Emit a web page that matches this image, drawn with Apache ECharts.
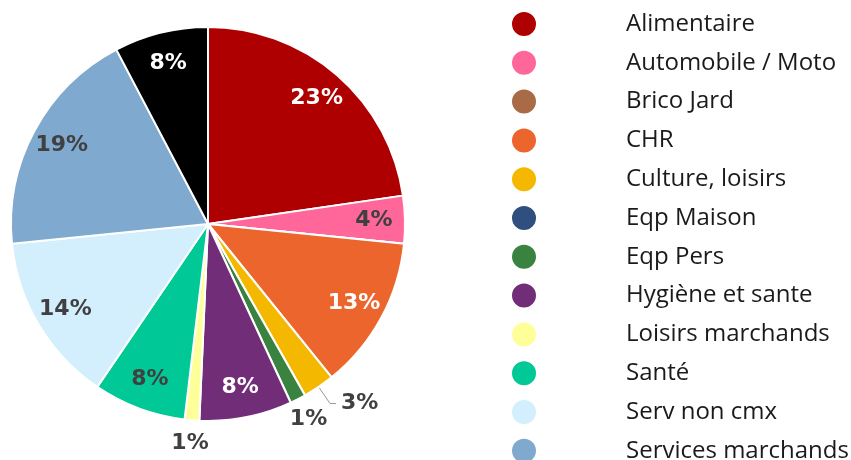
<!DOCTYPE html>
<html>
<head>
<meta charset="utf-8">
<script src="https://cdn.jsdelivr.net/npm/echarts@6/dist/echarts.min.js"></script>
<style>
  html, body { margin: 0; padding: 0; background: #fff; }
  #chart { width: 851px; height: 460px; }
</style>
</head>
<body>
<div id="chart"></div>
<script>
// secteurs (le dernier n'apparaît pas dans la légende visible)
const categories = [
  'Alimentaire', 'Automobile / Moto', 'Brico Jard', 'CHR', 'Culture, loisirs',
  'Eqp Maison', 'Eqp Pers', 'Hygiène et sante', 'Loisirs marchands', 'Santé',
  'Serv non cmx', 'Services marchands', 'Autres'
];
const shares = [22.7, 3.9, 0, 12.6, 2.6, 0, 1.3, 7.6, 1.2, 7.6, 13.9, 18.9, 7.7];
const colors = [
  '#AE0000', '#FF6699', '#A96A46', '#EB652D', '#F5B800',
  '#2F4F7F', '#3A8240', '#722D78', '#FFFF99', '#00C896',
  '#D3EEFC', '#7FA9CE', '#000000'
];
// couleur du texte à l'intérieur de chaque part
const labelColors = [
  '#fff', '#404040', '#fff', '#fff', '#404040',
  '#fff', '#fff', '#fff', '#404040', '#404040',
  '#404040', '#404040', '#fff'
];

const SMALL = 3;   // en dessous : étiquette à l'extérieur
const TINY = 2;    // très petites parts : étiquette juste sous la part, sans trait

const chart = echarts.init(document.getElementById('chart'));

const pct = p => Math.round(p.percent) + '%';
const labelFont = { fontFamily: 'DejaVu Sans', fontWeight: 'bold', fontSize: 22 };

// parts colorées + étiquettes à trait (3%)
const mainData = categories.map((name, i) => ({
  name,
  value: shares[i],
  itemStyle: { color: colors[i] },
  label: { show: shares[i] >= TINY && shares[i] < SMALL },
}));

// anneau transparent : étiquettes internes vers le bord
const innerData = categories.map((name, i) => ({
  name,
  value: shares[i],
  label: { show: shares[i] >= SMALL, color: labelColors[i] },
}));

// anneau transparent extérieur : étiquettes des très petites parts
const outerData = categories.map((name, i) => ({
  name,
  value: shares[i],
  label: { show: shares[i] > 0 && shares[i] < TINY },
}));

const ghost = {
  type: 'pie',
  center: [208, 224],
  startAngle: 90,
  clockwise: true,
  silent: true,
  itemStyle: { color: 'rgba(0,0,0,0)' },
  labelLine: { show: false },
};

chart.setOption({
  animation: false,
  legend: {
    orient: 'vertical',
    left: 505,
    top: 5,
    height: 700,
    icon: 'circle',
    itemWidth: 26,
    itemHeight: 26,
    itemGap: 10.8,
    selectedMode: false,
    textStyle: {
      fontFamily: 'Open Sans',
      fontSize: 24,
      lineHeight: 26,
      color: '#1a1a1a',
      padding: [0, 0, 0, 84],
    },
    data: categories,
  },
  series: [
    {
      type: 'pie',
      center: [208, 224],
      radius: [0, 197],
      startAngle: 90,
      clockwise: true,
      data: mainData,
      itemStyle: { borderColor: '#fff', borderWidth: 2 },
      label: Object.assign({
        position: 'outside',
        formatter: pct,
        color: '#404040',
      }, labelFont),
      labelLine: {
        show: true,
        length: 20,
        length2: 6,
        lineStyle: { color: '#999', width: 1 },
      },
    },
    Object.assign({}, ghost, {
      radius: [130, 196],
      data: innerData,
      label: Object.assign({ position: 'inside', formatter: pct }, labelFont),
    }),
    Object.assign({}, ghost, {
      radius: [198, 236],
      data: outerData,
      label: Object.assign({ position: 'inside', formatter: pct, color: '#404040' }, labelFont),
    }),
  ],
});
</script>
</body>
</html>
